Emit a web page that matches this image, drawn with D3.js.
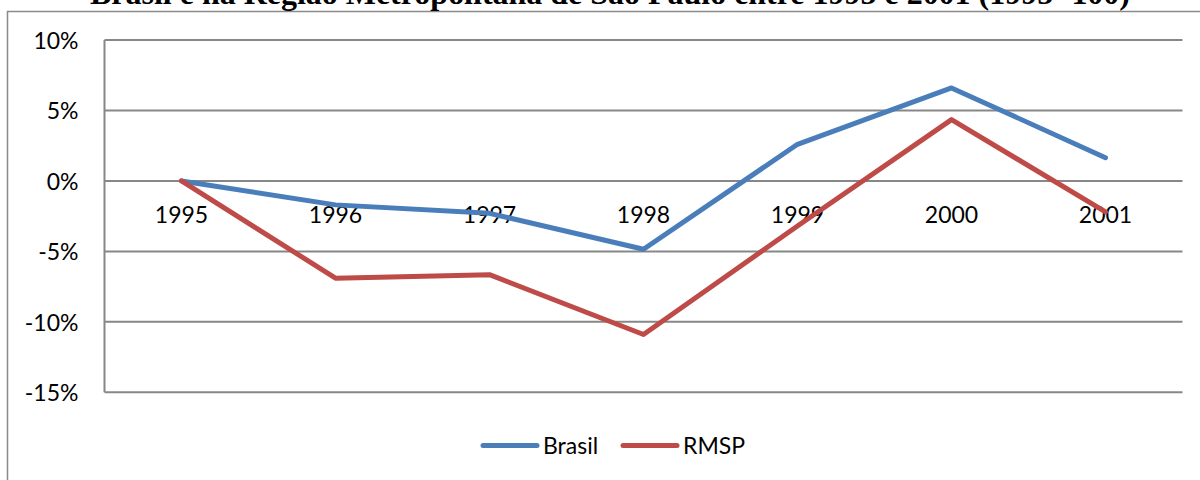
<!DOCTYPE html>
<html>
<head>
<meta charset="utf-8">
<script src="https://cdn.jsdelivr.net/npm/d3@7"></script>
<style>
  html, body { margin: 0; padding: 0; background: #fff; }
  svg { display: block; }
</style>
</head>
<body>
<svg id="chart" width="1200" height="480"></svg>
<script>
// Variation index, 1995 = 0%
const years = ["1995", "1996", "1997", "1998", "1999", "2000", "2001"];
const brasil = [0, -1.7, -2.3, -4.85, 2.6, 6.6, 1.65];
const rmsp = [0, -6.9, -6.65, -10.9, -3.2, 4.35, -2.2];
const yTicks = [10, 5, 0, -5, -10, -15];
const seriesNames = ["Brasil", "RMSP"];
const seriesColors = ["#4A7EBB", "#BE4B48"];
const titleText = "Brasil e na Região Metropolitana de São Paulo entre 1995 e 2001 (1995=100)";

const svg = d3.select("#chart");
const plot = { left: 104.5, right: 1182.5, top: 40, bottom: 392.3 };
const labelFont = "Lato, 'Open Sans', sans-serif";

// Outer frame of the chart
svg.append("rect")
  .attr("x", 7.5).attr("y", 11.5)
  .attr("width", 1210).attr("height", 500)
  .attr("fill", "none").attr("stroke", "#8a8a8a").attr("stroke-width", 1.5);

// Title (bold serif)
svg.append("text")
  .attr("x", 610).attr("y", 4)
  .attr("text-anchor", "middle")
  .attr("font-family", "'Liberation Serif', 'Times New Roman', serif")
  .attr("font-weight", "bold")
  .attr("font-size", 31)
  .attr("textLength", 1040)
  .attr("lengthAdjust", "spacingAndGlyphs")
  .text(titleText);

const x = d3.scaleBand().domain(years).range([plot.left, plot.right]);
const y = d3.scaleLinear().domain([-15, 10]).range([plot.bottom, plot.top]);

// Horizontal gridlines
svg.append("g")
  .selectAll("line")
  .data(yTicks)
  .join("line")
  .attr("x1", plot.left).attr("x2", plot.right)
  .attr("y1", d => y(d)).attr("y2", d => y(d))
  .attr("stroke", "#878787").attr("stroke-width", 2);

// Vertical axis line
svg.append("line")
  .attr("x1", plot.left).attr("x2", plot.left)
  .attr("y1", y(10)).attr("y2", y(-15))
  .attr("stroke", "#878787").attr("stroke-width", 2);

// Y axis labels
const yAxis = d3.axisLeft(y).tickValues(yTicks).tickSize(0).tickPadding(0)
  .tickFormat(d => d + "%");
const yG = svg.append("g").attr("transform", `translate(${plot.left - 26},0)`).call(yAxis);
yG.select(".domain").remove();
yG.selectAll("text")
  .attr("font-family", labelFont).attr("font-size", 23).attr("fill", "#000")
  .attr("dy", "0.36em");

// Category labels just below the zero line
const xAxis = d3.axisBottom(x).tickSize(0).tickPadding(0);
const xG = svg.append("g").attr("transform", `translate(0,${y(0)})`).call(xAxis);
xG.select(".domain").remove();
xG.selectAll("text")
  .attr("font-family", labelFont).attr("font-size", 23).attr("fill", "#000")
  .attr("y", 0).attr("dy", 42);

// Series lines
const line = d3.line()
  .x((d, i) => x(years[i]) + x.bandwidth() / 2)
  .y(d => y(d));

[brasil, rmsp].forEach((vals, k) => {
  svg.append("path")
    .datum(vals)
    .attr("d", line)
    .attr("fill", "none")
    .attr("stroke", seriesColors[k])
    .attr("stroke-width", 5)
    .attr("stroke-linejoin", "round")
    .attr("stroke-linecap", "round");
});

// Legend
const legendX = [483, 623];
const legend = svg.append("g");
seriesNames.forEach((name, k) => {
  legend.append("line")
    .attr("x1", legendX[k]).attr("x2", legendX[k] + 54)
    .attr("y1", 445.5).attr("y2", 445.5)
    .attr("stroke", seriesColors[k]).attr("stroke-width", 5)
    .attr("stroke-linecap", "round");
  legend.append("text")
    .attr("x", legendX[k] + 60).attr("y", 453.5)
    .attr("font-family", labelFont).attr("font-size", 23).attr("fill", "#000")
    .text(name);
});
</script>
</body>
</html>
